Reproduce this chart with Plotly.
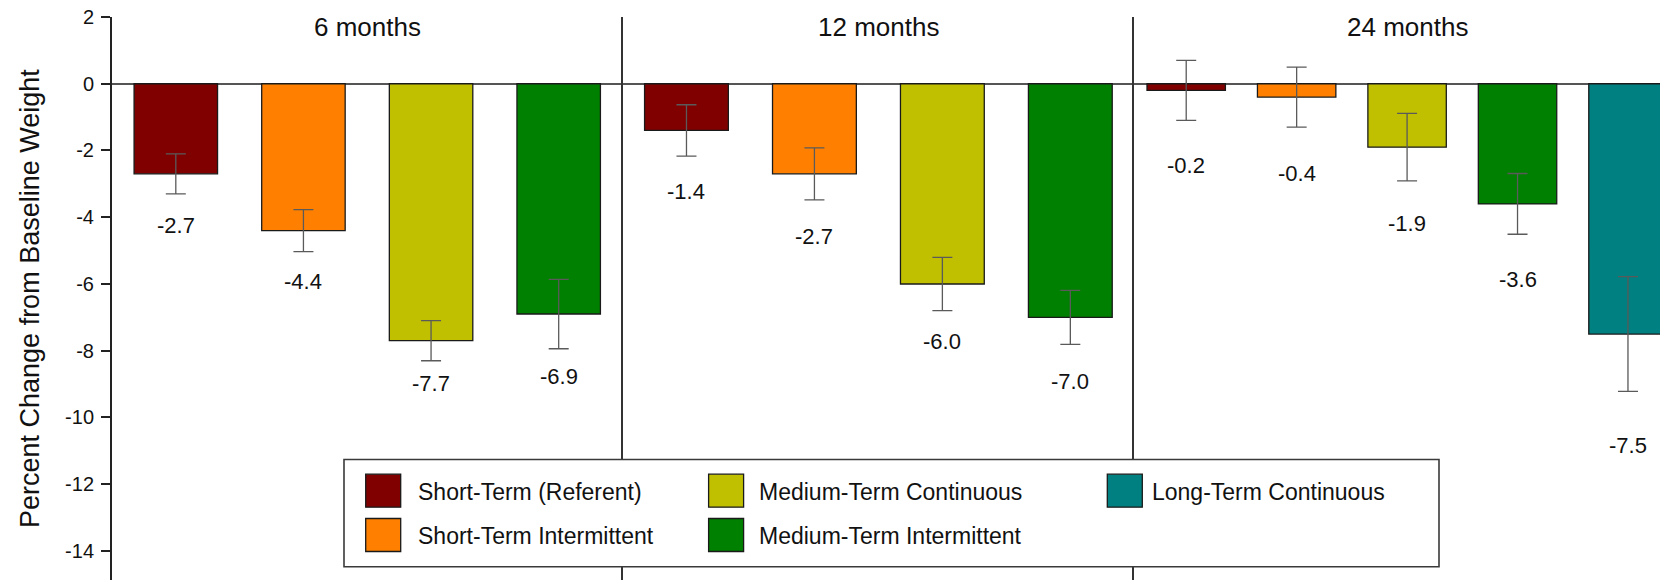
import plotly.graph_objects as go

# ---------------- data ----------------
periods = ["6 months", "12 months", "24 months"]
groups = [
    "Short-Term (Referent)",
    "Short-Term Intermittent",
    "Medium-Term Continuous",
    "Medium-Term Intermittent",
    "Long-Term Continuous",
]
colors = ["#800000", "#FF8000", "#C0C000", "#008000", "#008080"]

change_6m = [-2.7, -4.4, -7.7, -6.9]
change_12m = [-1.4, -2.7, -6.0, -7.0]
change_24m = [-0.2, -0.4, -1.9, -3.6, -7.5]

err_6m = [0.60, 0.63, 0.60, 1.04]
err_12m = [0.77, 0.78, 0.80, 0.81]
err_24m = [0.90, 0.90, 1.01, 0.91, 1.72]

y_ticks = [2, 0, -2, -4, -6, -8, -10, -12, -14]
y_tick_labels = [str(t) for t in y_ticks]  # plain hyphen-minus
y_title = "Percent Change from Baseline Weight"

# ---------------- layout constants ----------------
W, H = 1660, 580
L, R, T, B = 112, 0, 17, 0
FONT = "Liberation Sans, Arial, Helvetica, sans-serif"

panel_edges_px = [112, 622.5, 1134.3, 1660]
x_ranges = [[-0.5, 3.5], [-0.5, 3.5], [-0.47, 4.29]]
bar_widths = [0.654, 0.655, 0.71]
label_gap_px = [[32, 30, 23, 28], [35, 37, 31, 37], [45, 46, 43, 45, 54]]
period_title_y = 1.70


def paper_x(px):
    return (px - L) / (W - L - R)


def paper_y(py):
    return (H - B - py) / (H - T - B)


fig = go.Figure()

panels = [(change_6m, err_6m), (change_12m, err_12m), (change_24m, err_24m)]
annotations = []

for k, (vals, errs) in enumerate(panels):
    n = len(vals)
    cats = groups[:n]
    sfx = "" if k == 0 else str(k + 1)
    fig.add_trace(
        go.Bar(
            x=cats,
            y=vals,
            width=bar_widths[k],
            marker=dict(color=colors[:n], line=dict(color="#1a1a1a", width=1.3)),
            error_y=dict(type="data", array=errs, color="#5a5a5a", thickness=1.3, width=10),
            xaxis="x" + sfx,
            yaxis="y" + sfx,
            showlegend=False,
            hoverinfo="x+y",
        )
    )
    # value labels under each error bar
    for i, (v, e) in enumerate(zip(vals, errs)):
        annotations.append(
            dict(
                x=cats[i], y=v - e, xref="x" + sfx, yref="y" + sfx,
                text=f"{v:.1f}", showarrow=False, yanchor="middle",
                yshift=-label_gap_px[k][i],
                font=dict(family=FONT, size=22, color="#111"),
            )
        )
    # period heading centred over the panel
    annotations.append(
        dict(
            x=(n - 1) / 2, y=period_title_y, xref="x" + sfx, yref="y" + sfx,
            text=periods[k], showarrow=False, yanchor="middle",
            font=dict(family=FONT, size=26, color="#111"),
        )
    )

# y-axis title
annotations.append(
    dict(
        x=paper_x(30), y=paper_y(299), xref="paper", yref="paper",
        text=y_title, textangle=-90, showarrow=False,
        xanchor="center", yanchor="middle",
        font=dict(family=FONT, size=27, color="#111"),
    )
)

# ---------------- legend box ----------------
legend_box_px = (344, 459.5, 1439, 566.7)
legend_swatch_x = [365.7, 708.6, 1107.3]
legend_text_x = [416, 757, 1150]
legend_row_y = [490.7, 535.0]
swatch_w, swatch_h = 35, 33

shapes = [
    dict(
        type="rect", xref="paper", yref="paper", layer="above",
        x0=paper_x(legend_box_px[0]), x1=paper_x(legend_box_px[2]),
        y0=paper_y(legend_box_px[3]), y1=paper_y(legend_box_px[1]),
        fillcolor="white", line=dict(color="#3a3a3a", width=1.6),
    )
]
for i, (name, col) in enumerate(zip(groups, colors)):
    c, r = i // 2, i % 2
    sx = legend_swatch_x[c]
    cy = legend_row_y[r]
    shapes.append(
        dict(
            type="rect", xref="paper", yref="paper", layer="above",
            x0=paper_x(sx), x1=paper_x(sx + swatch_w),
            y0=paper_y(cy + swatch_h / 2), y1=paper_y(cy - swatch_h / 2),
            fillcolor=col, line=dict(color="#1a1a1a", width=1.3),
        )
    )
    annotations.append(
        dict(
            x=paper_x(legend_text_x[c]), y=paper_y(cy + 1), xref="paper", yref="paper",
            text=name, showarrow=False, xanchor="left", yanchor="middle",
            font=dict(family=FONT, size=23, color="#111"),
        )
    )

# ---------------- axes ----------------
layout_axes = {}
for k in range(3):
    sfx = "" if k == 0 else str(k + 1)
    d0 = paper_x(panel_edges_px[k])
    d1 = paper_x(panel_edges_px[k + 1])
    layout_axes["xaxis" + sfx] = dict(
        domain=[d0, d1], range=x_ranges[k], anchor="y" + sfx,
        showticklabels=False, ticks="", showgrid=False, zeroline=False,
        showline=False, fixedrange=True,
    )
    yax = dict(
        domain=[0, 1], anchor="x" + sfx, range=[-14.87, 2],
        showgrid=False, zeroline=True, zerolinecolor="#555", zerolinewidth=1.5,
        showline=True, fixedrange=True,
    )
    if k == 0:
        yax.update(
            tickvals=y_ticks, ticktext=y_tick_labels,
            ticks="outside", ticklen=9, tickwidth=1.5, ticklabelstandoff=3,
            tickcolor="#222", linecolor="#222", linewidth=2,
            tickfont=dict(family=FONT, size=20, color="#111"),
        )
    else:
        yax.update(
            matches="y", showticklabels=False, ticks="",
            linecolor="#333", linewidth=1.5,
        )
    layout_axes["yaxis" + sfx] = yax

fig.update_layout(
    width=W, height=H,
    margin=dict(l=L, r=R, t=T, b=B, pad=0),
    paper_bgcolor="white", plot_bgcolor="white",
    font=dict(family=FONT, color="#111"),
    annotations=annotations, shapes=shapes,
    **layout_axes,
)

fig.write_html("out.html")
